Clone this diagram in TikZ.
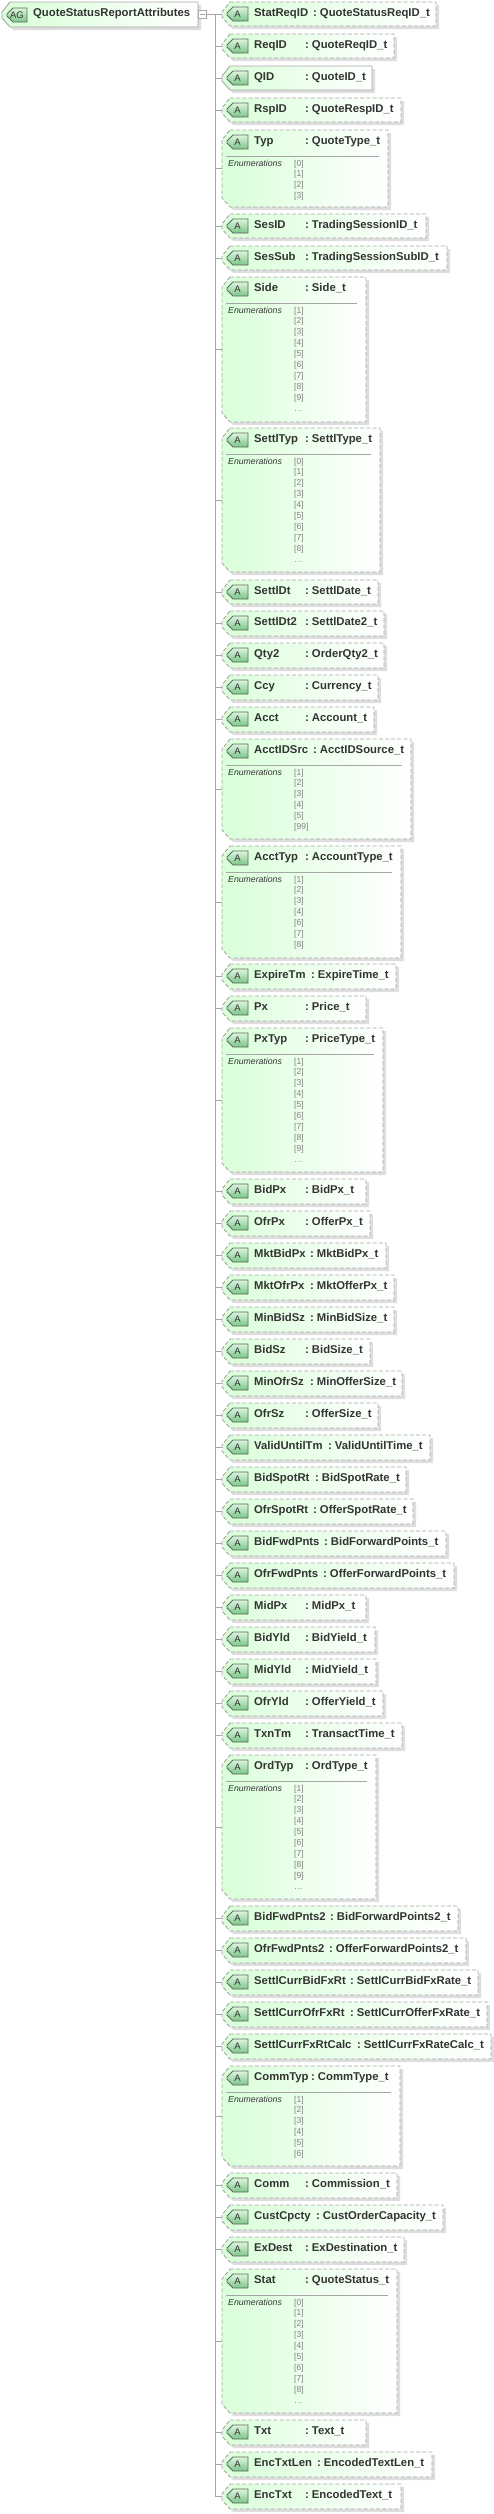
\documentclass[tikz,border=0pt]{standalone}
\usepackage{fontspec}
\setmainfont{Liberation Sans}
\usetikzlibrary{positioning,calc,shapes.misc,shadows}
\definecolor{mint}{HTML}{D9FFD9}
\definecolor{edge}{HTML}{A6A6A6}
\definecolor{shade}{HTML}{DEDEDE}
\definecolor{ink}{HTML}{333333}
\definecolor{tagtop}{HTML}{DDF5DD}
\definecolor{tagbot}{HTML}{7CC48A}
\definecolor{tagedge}{HTML}{5A6A5E}

\begin{document}
\begin{tikzpicture}[x=1pt,y=1pt,
  attr/.style={draw=edge,line width=.9pt,left color=mint,right color=white,
    drop shadow={shadow xshift=3pt,shadow yshift=-3pt,fill=shade,opacity=1}},
  dash4/.style={dash pattern=on 4pt off 2.2pt},
  slot/.style={inner sep=0pt},
  badge/.style={chamfered rectangle,chamfered rectangle corners={north west,south west},
    chamfered rectangle xsep=3pt,chamfered rectangle ysep=3pt,inner sep=0pt,
    minimum height=14pt,draw=tagedge,line width=.8pt,top color=tagtop,bottom color=tagbot,
    text=ink,font=\fontsize{9.5}{12}\selectfont},
  lab/.style={anchor=base west,inner sep=0pt,text=ink,font=\bfseries\fontsize{11.3}{13}\selectfont},
  enumlab/.style={anchor=base west,inner sep=0pt,text=ink,font=\itshape\fontsize{8.7}{10}\selectfont},
  item/.style={anchor=base west,inner sep=0pt,text=black!50,font=\fontsize{8.5}{10}\selectfont},
  tree/.style={draw=edge,line width=.8pt}]
\useasboundingbox (0,0) rectangle (494,-2514);
% root
\path[attr] (10,-2) -- (198,-2) -- (198,-27) -- (10,-27) -- (2,-18) -- (2,-12) -- cycle;
\node[slot,minimum width=196pt,minimum height=25pt] (root) at (100,-14.5) {};
\node[badge,minimum width=20pt] (rootb) at (17,-15) {AG};
\node[lab] (rootlab) at (33,-16.5) {QuoteStatusReportAttributes};
\node[draw=edge,fill=white,line width=.7pt,minimum width=8pt,minimum height=8pt,inner sep=0pt] (rootexp) at (202.5,-14) {};
\draw[tree] ($(rootexp.center)+(-2.5,0)$) -- ($(rootexp.center)+(2.5,0)$);
\coordinate (spine) at (215,-14);
% attributes: name/type/top/bottom/right/colon/border/enumerations
\foreach \nm/\ty/\yt/\yb/\xr/\xc/\bd/\en in {
  StatReqID/QuoteStatusReqID/2/26/436/313/dash4/{},
  ReqID/QuoteReqID/34/58/394/305/dash4/{},
  QID/QuoteID/66/90/372/305/solid/{},
  RspID/QuoteRespID/98/122/401/305/dash4/{},
  Typ/QuoteType/130/207/388/305/dash4/{[0],[1],[2],[3]},
  SesID/TradingSessionID/214/238/426/305/dash4/{},
  SesSub/TradingSessionSubID/246/270/447/305/dash4/{},
  Side/Side/277/422/366/305/dash4/{[1],[2],[3],[4],[5],[6],[7],[8],[9],\ldots},
  SettlTyp/SettlType/428/572/380/305/dash4/{[0],[1],[2],[3],[4],[5],[6],[7],[8],\ldots},
  SettlDt/SettlDate/580/604/378/305/dash4/{},
  SettlDt2/SettlDate2/611/636/384/305/dash4/{},
  Qty2/OrderQty2/643/668/384/305/dash4/{},
  Ccy/Currency/675/700/378/305/dash4/{},
  Acct/Account/707/732/374/305/dash4/{},
  AcctIDSrc/AcctIDSource/739/839/411/313/dash4/{[1],[2],[3],[4],[5],[99]},
  AcctTyp/AccountType/846/958/401/305/dash4/{[1],[2],[3],[4],[6],[7],[8]},
  ExpireTm/ExpireTime/964/989/396/311/dash4/{},
  Px/Price/996/1021/366/305/dash4/{},
  PxTyp/PriceType/1028/1172/383/305/dash4/{[1],[2],[3],[4],[5],[6],[7],[8],[9],\ldots},
  BidPx/BidPx/1179/1204/366/305/dash4/{},
  OfrPx/OfferPx/1211/1236/370/305/dash4/{},
  MktBidPx/MktBidPx/1243/1268/386/310/dash4/{},
  MktOfrPx/MktOfferPx/1275/1300/394/310/dash4/{},
  MinBidSz/MinBidSize/1307/1332/394/310/dash4/{},
  BidSz/BidSize/1339/1364/370/305/dash4/{},
  MinOfrSz/MinOfferSize/1371/1396/402/310/dash4/{},
  OfrSz/OfferSize/1403/1428/378/305/dash4/{},
  ValidUntilTm/ValidUntilTime/1435/1460/430/328/dash4/{},
  BidSpotRt/BidSpotRate/1467/1492/406/315/dash4/{},
  OfrSpotRt/OfferSpotRate/1499/1524/413/313/dash4/{},
  BidFwdPnts/BidForwardPoints/1531/1556/446/324/dash4/{},
  OfrFwdPnts/OfferForwardPoints/1563/1588/454/323/dash4/{},
  MidPx/MidPx/1595/1620/366/305/dash4/{},
  BidYld/BidYield/1627/1652/375/305/dash4/{},
  MidYld/MidYield/1659/1684/376/305/dash4/{},
  OfrYld/OfferYield/1691/1716/383/305/dash4/{},
  TxnTm/TransactTime/1723/1748/402/305/dash4/{},
  OrdTyp/OrdType/1755/1899/376/305/dash4/{[1],[2],[3],[4],[5],[6],[7],[8],[9],\ldots},
  BidFwdPnts2/BidForwardPoints2/1906/1931/458/330/dash4/{},
  OfrFwdPnts2/OfferForwardPoints2/1938/1963/466/329/dash4/{},
  SettlCurrBidFxRt/SettlCurrBidFxRate/1970/1995/478/350/dash4/{},
  SettlCurrOfrFxRt/SettlCurrOfferFxRate/2002/2027/487/350/dash4/{},
  SettlCurrFxRtCalc/SettlCurrFxRateCalc/2034/2059/491/357/dash4/{},
  CommTyp/CommType/2066/2166/400/311/dash4/{[1],[2],[3],[4],[5],[6]},
  Comm/Commission/2173/2198/397/305/dash4/{},
  CustCpcty/CustOrderCapacity/2205/2230/443/316/dash4/{},
  ExDest/ExDestination/2237/2262/404/305/dash4/{},
  Stat/QuoteStatus/2269/2413/397/305/dash4/{[0],[1],[2],[3],[4],[5],[6],[7],[8],\ldots},
  Txt/Text/2420/2445/366/305/dash4/{},
  EncTxtLen/EncodedTextLen/2452/2477/432/317/dash4/{},
  EncTxt/EncodedText/2484/2509/401/305/dash4/{}}{
  \path[attr,\bd] (230,-\yt) -- (\xr,-\yt) -- (\xr,-\yb) -- (230,-\yb) -- (222,{-\yb+9}) -- (222,{-\yt-10}) -- cycle;
  \node[slot,minimum width={(\xr-222)*1pt},minimum height={(\yb-\yt)*1pt}] (\nm) at ({(222+\xr)/2},{-(\yt+\yb)/2}) {};
  \node[badge,minimum width=21pt] (\nm-b) at (237.5,{-\yt-12}) {A};
  \node[lab] (\nm-lab) at (254,{-\yt-14}) {\nm};
  \node[lab] (\nm-ty) at (\xc,{-\yt-14}) {:\hspace{3pt}\ty\_t};
  \draw[tree] (spine |- \nm.west) -- (\nm.west);
  \foreach \v [count=\i] in \en {
    \ifnum\i=1
      \draw[edge,line width=.8pt] (226,{-\yt-26}) -- ({\xr-9},{-\yt-26});
      \node[enumlab] (\nm-en) at (228,{-\yt-36}) {Enumerations};
      \node[item] (\nm-\i) at (294,{-\yt-36}) {\v};
    \else
      \node[item] (\nm-\i) at (294,{-\yt-35-11*(\i-1)}) {\v};
    \fi
  }
}
\draw[tree] (spine) -- (spine |- EncTxt.west);
\draw[tree] (rootexp.east) -- (StatReqID.west);
\end{tikzpicture}
\end{document}
